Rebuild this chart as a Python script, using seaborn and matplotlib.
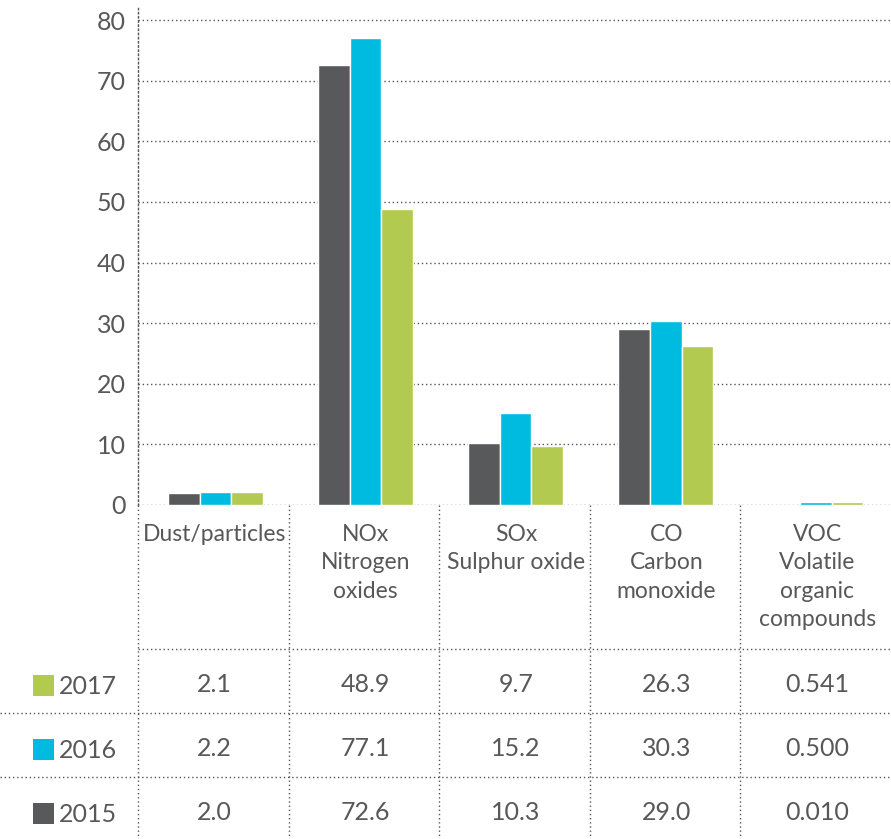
import pandas as pd
import matplotlib.pyplot as plt
import seaborn as sns
from matplotlib.patches import Rectangle

# data
pollutants = ['Dust/particles', 'NOx\nNitrogen\noxides', 'SOx\nSulphur oxide',
              'CO\nCarbon\nmonoxide', 'VOC\nVolatile\norganic\ncompounds']
years = ['2015', '2016', '2017']
v2015 = [2.0, 72.6, 10.3, 29.0, 0.010]
v2016 = [2.2, 77.1, 15.2, 30.3, 0.500]
v2017 = [2.1, 48.9, 9.7, 26.3, 0.541]
labels2015 = ['2.0', '72.6', '10.3', '29.0', '0.010']
labels2016 = ['2.2', '77.1', '15.2', '30.3', '0.500']
labels2017 = ['2.1', '48.9', '9.7', '26.3', '0.541']
yticks = [0, 10, 20, 30, 40, 50, 60, 70, 80]

colors = {'2015': '#58595b', '2016': '#00bbe0', '2017': '#b1ca4f'}
txt = '#58585a'
dot = (0, (1, 2))

rows = []
for yr, vals in zip(years, [v2015, v2016, v2017]):
    for p, v in zip(pollutants, vals):
        rows.append({'pollutant': p, 'year': yr, 'value': v})
df = pd.DataFrame(rows)

sns.set_style('white')
plt.rcParams['font.family'] = ['Lato', 'DejaVu Sans']
plt.rcParams['font.weight'] = 'normal'

W, H = 891, 839
fig = plt.figure(figsize=(W / 100, H / 100), dpi=100)
left_px, base_px, top_px = 138, 505, 8
ax = fig.add_axes([left_px / W, (H - base_px) / H, 1 - left_px / W, (base_px - top_px) / H])

sns.barplot(data=df, x='pollutant', y='value', hue='year', hue_order=years,
            order=pollutants, palette=colors, width=0.63, edgecolor='white',
            linewidth=1, saturation=1, legend=False, ax=ax)

ax.set_xlim(-0.515, 4.5)
ax.set_ylim(0, (base_px - top_px) / ((base_px - 20) / 80))
ax.set_yticks(yticks)
ax.set_xticks([])
ax.set_xlabel('')
ax.set_ylabel('')
ax.tick_params(axis='y', length=0, pad=9, labelsize=18, labelcolor=txt)
ax.set_axisbelow(True)
ax.yaxis.grid(True, linestyle=dot, color='#555555', linewidth=1)
for s in ['top', 'right', 'bottom']:
    ax.spines[s].set_visible(False)
ax.spines['left'].set_linestyle(dot)
ax.spines['left'].set_color('#555555')
ax.spines['left'].set_linewidth(1)

# table below the bars, in pixel offsets from the baseline
tab_h = H - base_px
col_w = (W - left_px) / 5
xmin = -0.5 - left_px / col_w
axt = fig.add_axes([0, 0, 1, tab_h / H])
axt.set_xlim(xmin, 4.5)
axt.set_ylim(tab_h, 0)
axt.axis('off')

head_h, row_h = 144, 64
line_kw = dict(color='#555555', linewidth=1, linestyle=dot)
axt.hlines(head_h, -0.5, 4.5, **line_kw)
axt.hlines([head_h + row_h, head_h + 2 * row_h], xmin, 4.5, **line_kw)
axt.vlines([-0.5, 0.5, 1.5, 2.5, 3.5], 0, tab_h, **line_kw)

for i, p in enumerate(pollutants):
    axt.text(i + 0.01, 19, p, ha='center', va='top', fontsize=16.5, color=txt,
             linespacing=1.44)

table_rows = [('2017', labels2017), ('2016', labels2016), ('2015', labels2015)]
for r, (yr, labs) in enumerate(table_rows):
    yc = head_h + row_h * r + row_h / 2 + 4
    for i, lab in enumerate(labs):
        axt.text(i + 0.01, yc, lab, ha='center', va='center', fontsize=18, color=txt)
    sq = 21 / col_w
    axt.add_patch(Rectangle((xmin + 33 / col_w, yc - 10.5), sq, 21,
                            color=colors[yr], lw=0))
    axt.text(xmin + 59 / col_w, yc + 1, yr, ha='left', va='center',
             fontsize=18, color=txt)

fig.savefig('out.png', dpi=100)
